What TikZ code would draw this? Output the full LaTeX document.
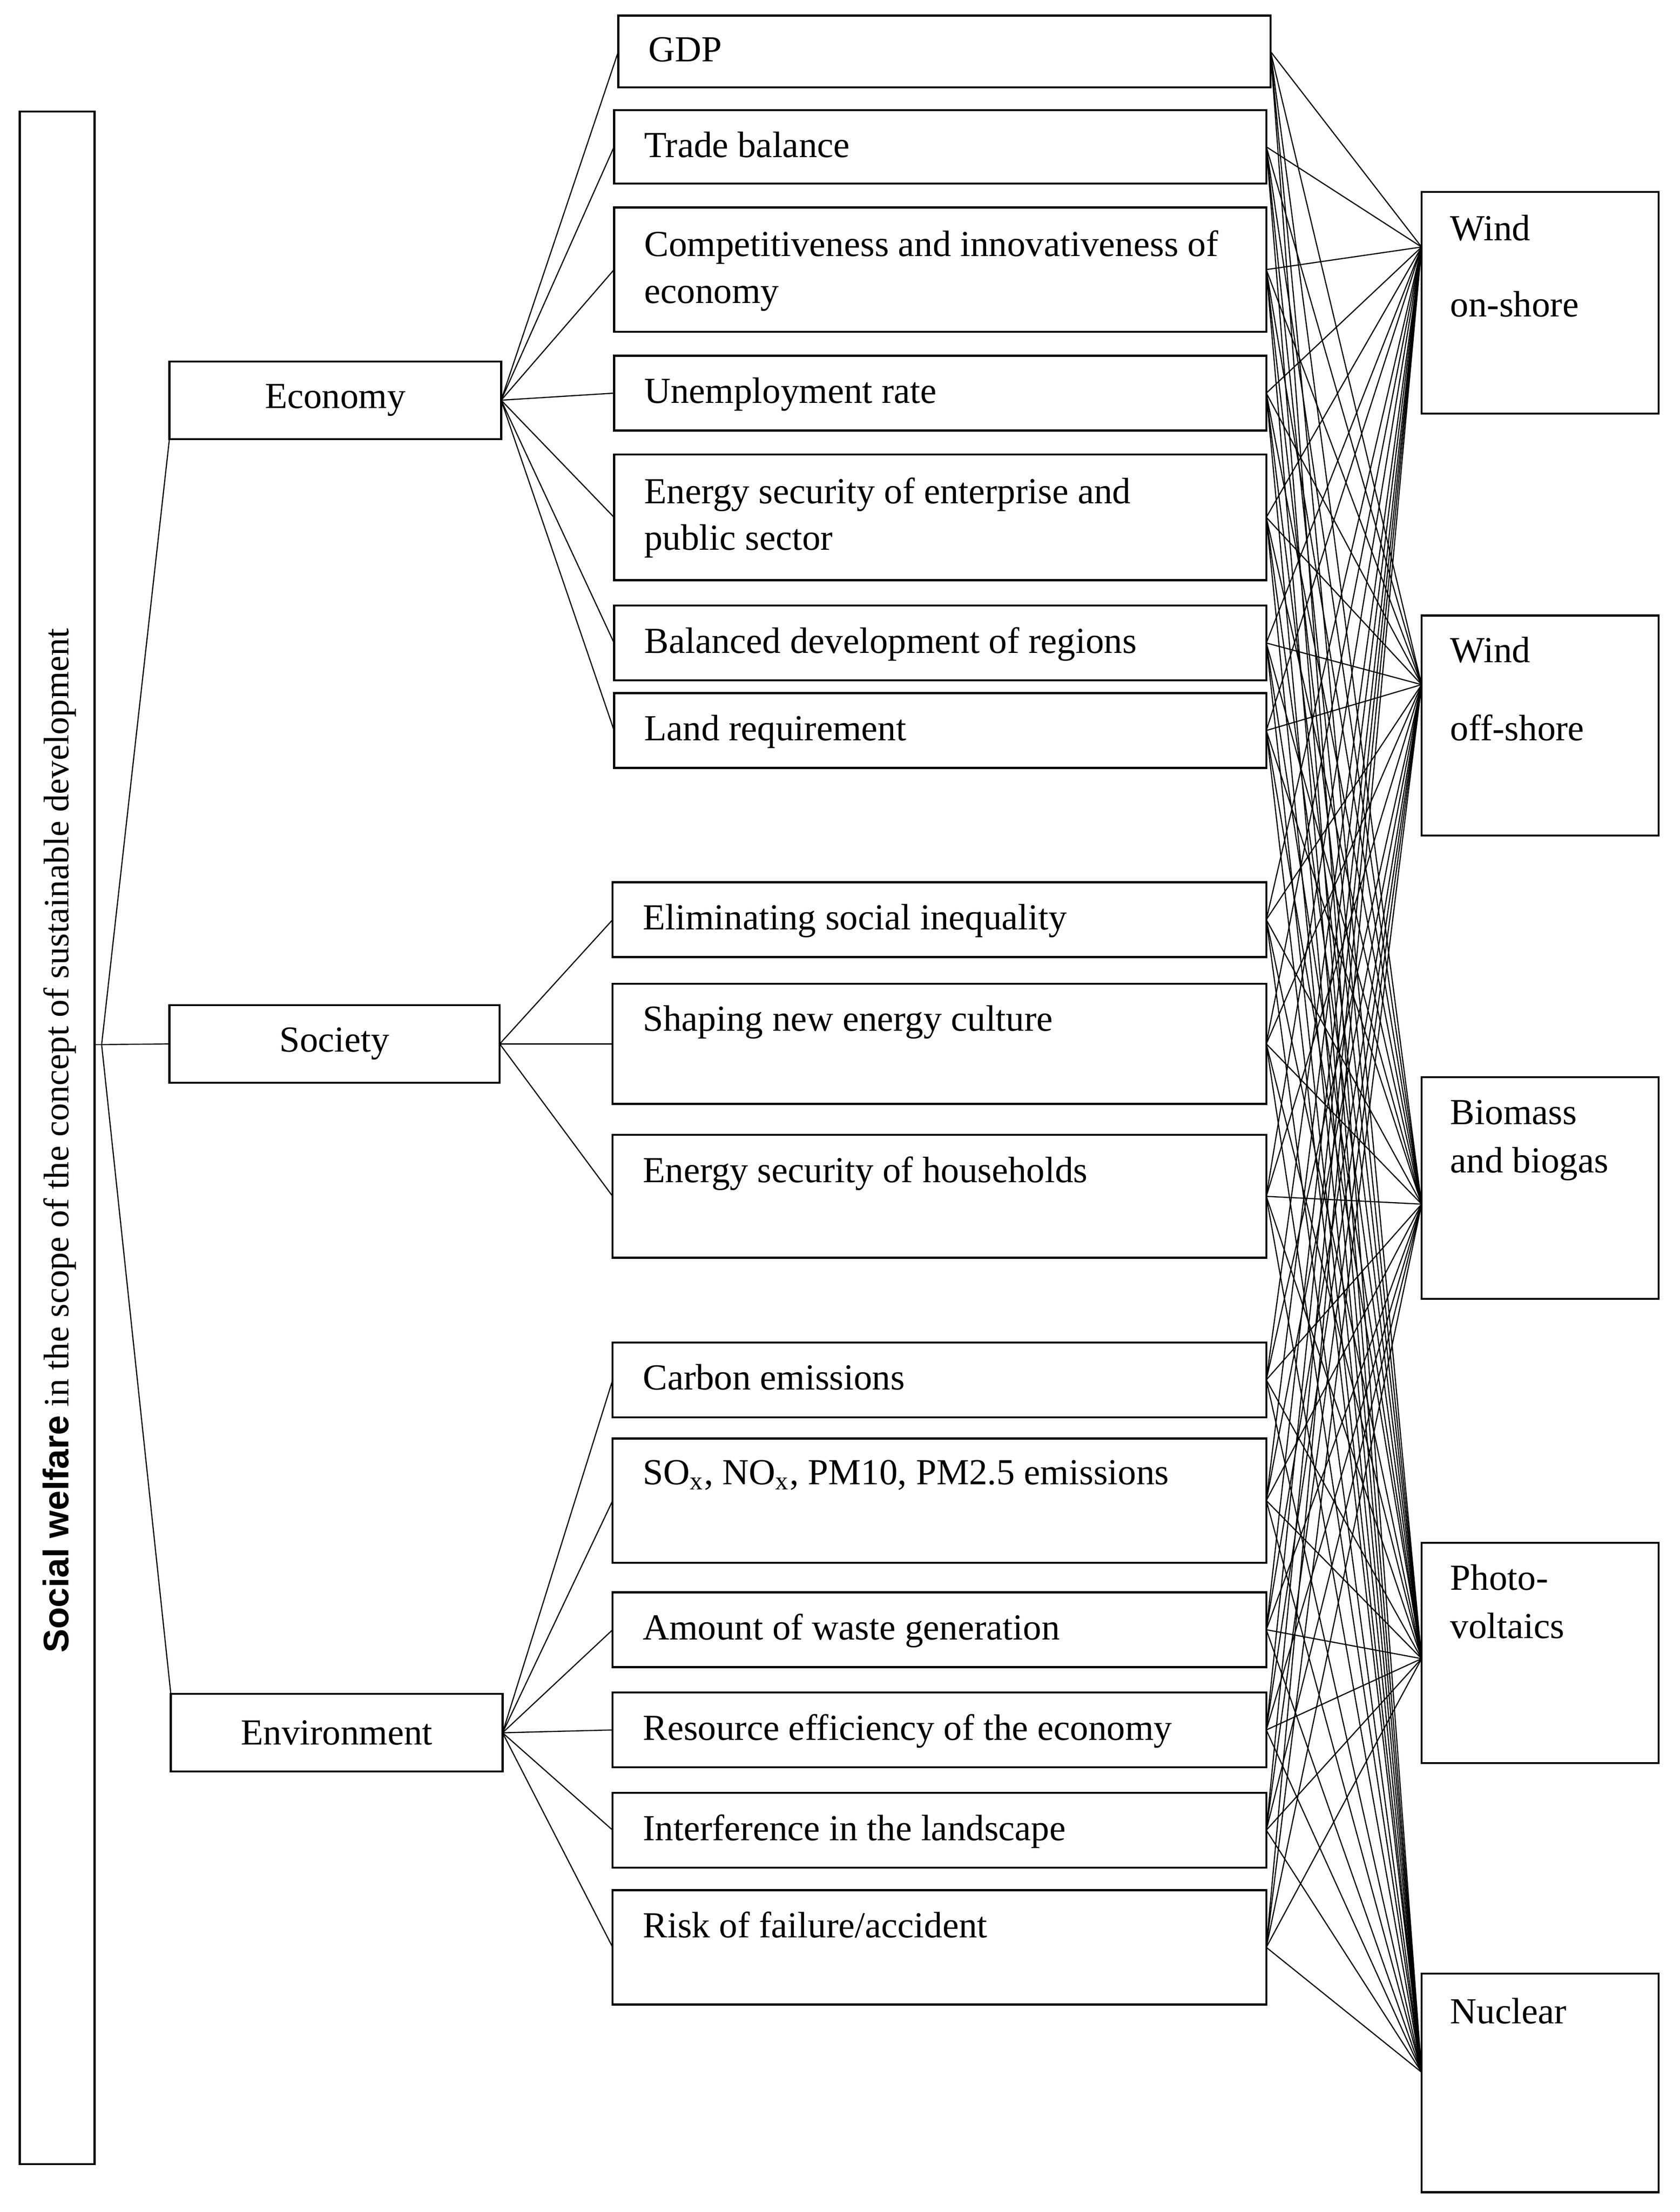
\documentclass[tikz,border=0pt]{standalone}
\usepackage{fontspec}
\setmainfont{Liberation Serif}
\setsansfont{Liberation Sans}
\begin{document}
\begin{tikzpicture}[x=0.5pt,y=-0.5pt,
  box/.style={draw,line width=0.7pt,inner sep=0,outer sep=0,rectangle},
  lbl/.style={anchor=north west,inner sep=0,align=left,font=\fontsize{13}{16.5}\selectfont},
  rl/.style={anchor=north west,inner sep=0,align=left,font=\fontsize{13}{17}\selectfont},
  con/.style={line width=0.4pt}]
\useasboundingbox (0,0) rectangle (1190,1567);
\newcommand{\bx}[5]{\node[box,minimum width={(#4-#2)*0.5pt},minimum height={(#5-#3)*0.5pt}] (#1) at ({(#2+#4)/2},{(#3+#5)/2}) {};}
% left
\bx{sw}{14}{79}{67}{1533}
\node[rotate=90,inner sep=0,font=\fontsize{12.6}{14}\selectfont] (swt) at (42,808) {{\sffamily\bfseries Social welfare} in the scope of the concept of sustainable development};
\coordinate (root) at (72,740);
\bx{eco}{120}{256}{355}{311}
\bx{soc}{120}{712}{354}{767}
\bx{env}{121}{1200}{356}{1255}
\node[font=\fontsize{13}{14}\selectfont] (ecot) at (eco) {Economy};
\node[font=\fontsize{13}{14}\selectfont] (soct) at (soc) {Society};
\node[font=\fontsize{13}{14}\selectfont] (envt) at (env) {Environment};
\draw[con] (sw.east|-root) -- (root);
\draw[con] (root) -- (eco.south west);
\draw[con] (root) -- (soc.west);
\draw[con] (root) -- (env.north west);
% indicators
\bx{m1}{438}{11}{900}{62}
\bx{m2}{435}{78}{897}{130}
\bx{m3}{435}{147}{897}{235}
\bx{m4}{435}{252}{897}{305}
\bx{m5}{435}{322}{897}{411}
\bx{m6}{435}{429}{897}{482}
\bx{m7}{435}{491}{897}{544}
\bx{m8}{434}{625}{897}{678}
\bx{m9}{434}{697}{897}{782}
\bx{m10}{434}{804}{897}{891}
\bx{m11}{434}{951}{897}{1004}
\bx{m12}{434}{1019}{897}{1107}
\bx{m13}{434}{1128}{897}{1181}
\bx{m14}{434}{1199}{897}{1252}
\bx{m15}{434}{1270}{897}{1323}
\bx{m16}{434}{1339}{897}{1420}
\node[lbl] (t1) at (459,26) {GDP};
\node[lbl] (t2) at (456,93) {Trade balance};
\node[lbl] (t3) at (456,163) {Competitiveness and innovativeness of\\economy};
\node[lbl] (t4) at (456,267) {Unemployment rate};
\node[lbl] (t5) at (456,338) {Energy security of enterprise and\\public sector};
\node[lbl] (t6) at (456,444) {Balanced development of regions};
\node[lbl] (t7) at (456,506) {Land requirement};
\node[lbl] (t8) at (455,640) {Eliminating social inequality};
\node[lbl] (t9) at (455,712) {Shaping new energy culture};
\node[lbl] (t10) at (455,819) {Energy security of households};
\node[lbl] (t11) at (455,966) {Carbon emissions};
\node[lbl] (t12) at (455,1034) {SO\textsubscript{x}, NO\textsubscript{x}, PM10, PM2.5 emissions};
\node[lbl] (t13) at (455,1143) {Amount of waste generation};
\node[lbl] (t14) at (455,1214) {Resource efficiency of the economy};
\node[lbl] (t15) at (455,1285) {Interference in the landscape};
\node[lbl] (t16) at (455,1354) {Risk of failure/accident};
\foreach \m in {m1,m2,m3,m4,m5,m6,m7} \draw[con] (eco.east) -- (\m.west);
\foreach \m in {m8,m9,m10} \draw[con] (soc.east) -- (\m.west);
\foreach \m in {m11,m12,m13,m14,m15,m16} \draw[con] (env.east) -- (\m.west);
% sources
\bx{r1}{1007}{136}{1175}{293}
\bx{r2}{1007}{436}{1175}{592}
\bx{r3}{1007}{763}{1175}{920}
\bx{r4}{1007}{1093}{1175}{1249}
\bx{r5}{1007}{1398}{1175}{1553}
\node[rl] (u1a) at (1027,152) {Wind};
\node[rl] (u1b) at (1027,206) {on-shore};
\node[rl] (u2a) at (1027,451) {Wind};
\node[rl] (u2b) at (1027,506) {off-shore};
\node[rl] (u3) at (1027,779) {Biomass\\and biogas};
\node[rl] (u4) at (1027,1108) {Photo-\\voltaics};
\node[rl] (u5) at (1027,1415) {Nuclear};
\coordinate (c1) at (1007,175);
\coordinate (c2) at (1007,485);
\coordinate (c3) at (1007,853);
\coordinate (c4) at (1007,1175);
\coordinate (c5) at (1007,1468);
\foreach \m in {m1,m2,m3,m4,m5,m6,m7,m8,m9,m10,m11,m12,m13,m14,m15,m16}
  \foreach \c in {c1,c2,c3,c4,c5}
    \draw[con] (\m.east) -- (\c);
\end{tikzpicture}
\end{document}
